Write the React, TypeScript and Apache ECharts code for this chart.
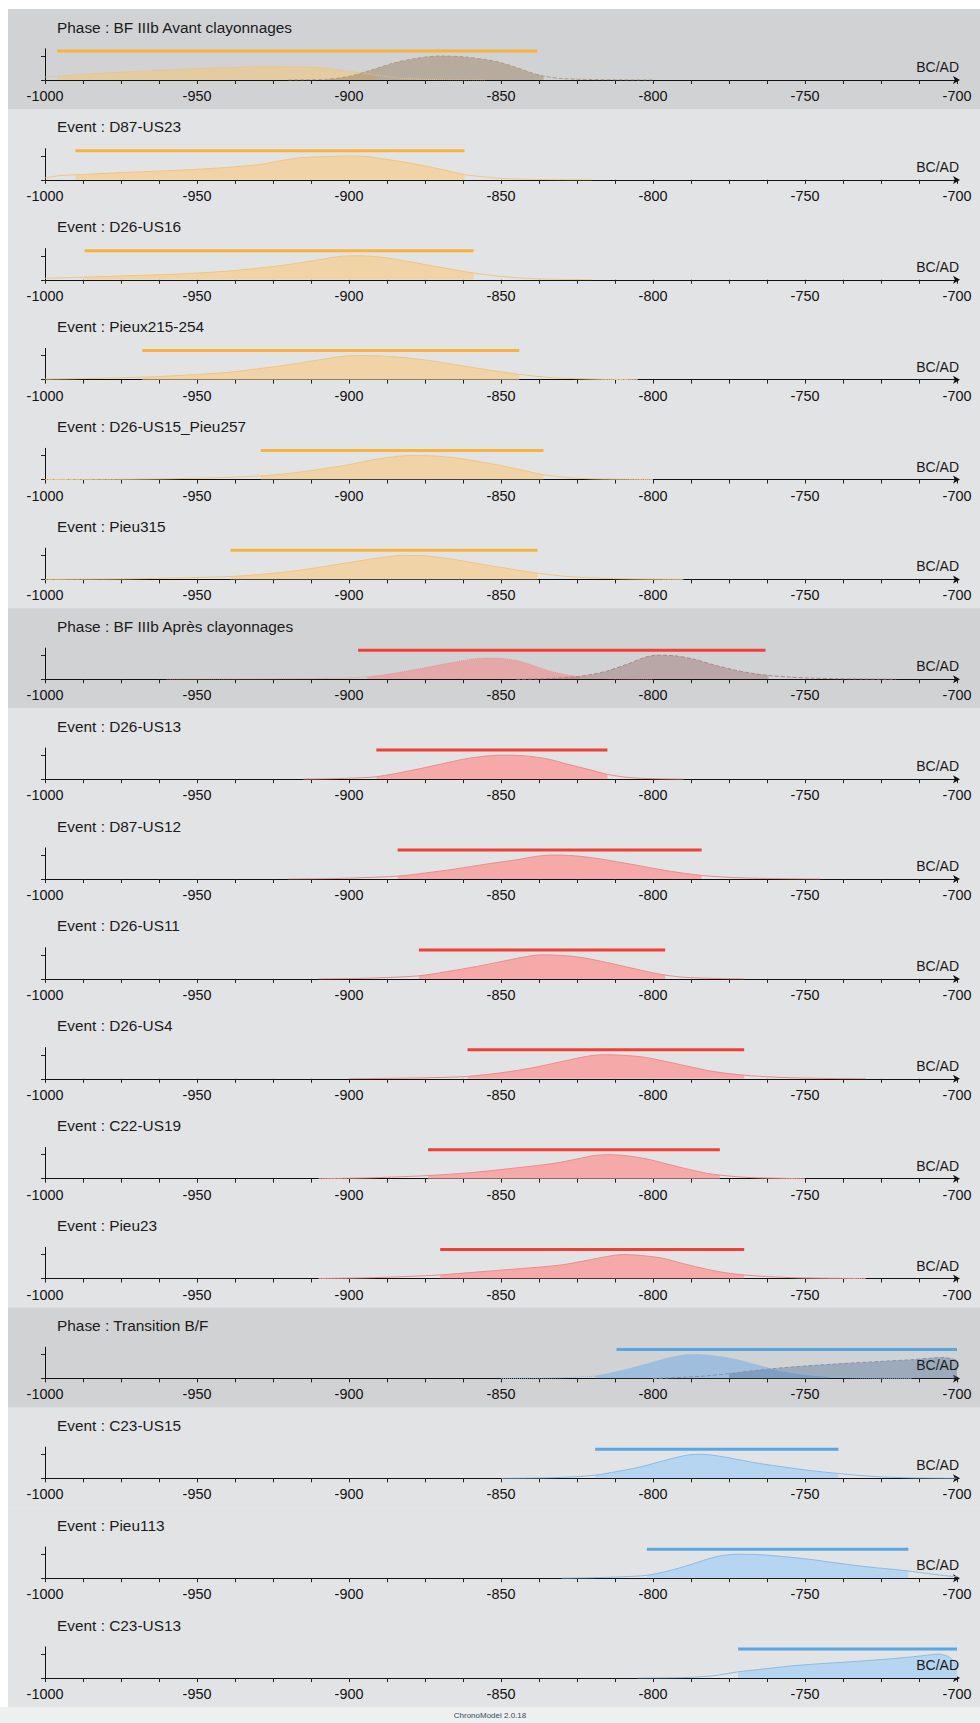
import React, { useEffect, useRef } from 'react';
import * as echarts from 'echarts';

// ---------- DATA ----------
const panelTitles = [
  'Phase : BF IIIb Avant clayonnages',
  'Event : D87-US23',
  'Event : D26-US16',
  'Event : Pieux215-254',
  'Event : D26-US15_Pieu257',
  'Event : Pieu315',
  'Phase : BF IIIb Après clayonnages',
  'Event : D26-US13',
  'Event : D87-US12',
  'Event : D26-US11',
  'Event : D26-US4',
  'Event : C22-US19',
  'Event : Pieu23',
  'Phase : Transition B/F',
  'Event : C23-US15',
  'Event : Pieu113',
  'Event : C23-US13',
];
const panelGroups = [
  'orange', 'orange', 'orange', 'orange', 'orange', 'orange',
  'red', 'red', 'red', 'red', 'red', 'red', 'red',
  'blue', 'blue', 'blue', 'blue',
];

const xMin = -1000;
const xMax = -700;
const xStep = 50;
const axisName = 'BC/AD';
const footerText = 'ChronoModel 2.0.18';

// Phase BF IIIb Avant clayonnages
const avantBegin = [[-1000, 0.12], [-996, 0.16], [-985, 0.26], [-970, 0.36], [-955, 0.45], [-940, 0.52], [-928, 0.56], [-918, 0.55], [-908, 0.5], [-900, 0.36], [-895, 0.28], [-891, 0.2], [-885, 0.1], [-878, 0.04], [-868, 0.01], [-855, 0]];
const avantEnd = [[-920, 0], [-907, 0.03], [-900, 0.15], [-893, 0.4], [-885, 0.72], [-878, 0.9], [-870, 1.0], [-862, 0.96], [-855, 0.85], [-850, 0.72], [-845, 0.52], [-840, 0.3], [-836, 0.16], [-830, 0.06], [-820, 0.02], [-810, 0.005], [-800, 0]];
const avantBeginFill = [-996, -891];
const avantEndFill = [-907, -836];
const avantHpd = [-996, -838];

const d87us23 = [[-1000, 0.08], [-995, 0.18], [-990, 0.21], [-975, 0.3], [-960, 0.38], [-950, 0.44], [-940, 0.52], [-930, 0.63], [-920, 0.85], [-915, 0.93], [-905, 0.98], [-900, 1.0], [-895, 0.98], [-890, 0.9], [-880, 0.7], [-870, 0.45], [-862, 0.22], [-855, 0.12], [-850, 0.06], [-840, 0.02], [-830, 0.005], [-820, 0]];
const d87us23Hpd = [-990, -862];

const d26us16 = [[-1000, 0.06], [-987, 0.11], [-975, 0.16], [-962, 0.21], [-950, 0.28], [-940, 0.36], [-930, 0.48], [-920, 0.63], [-910, 0.83], [-903, 0.97], [-898, 1.0], [-890, 0.95], [-880, 0.75], [-870, 0.52], [-859, 0.28], [-850, 0.14], [-840, 0.05], [-830, 0.015], [-820, 0]];
const d26us16Hpd = [-987, -859];

const pieux215 = [[-1000, 0.02], [-985, 0.05], [-968, 0.1], [-955, 0.18], [-940, 0.3], [-930, 0.45], [-920, 0.62], [-910, 0.82], [-902, 0.97], [-895, 1.0], [-885, 0.95], [-875, 0.82], [-865, 0.62], [-855, 0.42], [-844, 0.22], [-835, 0.1], [-825, 0.04], [-815, 0.01], [-805, 0]];
const pieux215Hpd = [-968, -844];

const d26us15 = [[-1000, 0], [-975, 0.01], [-960, 0.03], [-945, 0.07], [-929, 0.15], [-920, 0.25], [-910, 0.42], [-900, 0.62], [-892, 0.82], [-885, 0.95], [-880, 1.0], [-872, 0.98], [-865, 0.9], [-855, 0.7], [-845, 0.45], [-836, 0.2], [-828, 0.08], [-820, 0.03], [-810, 0.01], [-800, 0]];
const d26us15Hpd = [-929, -836];

const pieu315 = [[-1000, 0], [-975, 0.02], [-960, 0.05], [-950, 0.08], [-939, 0.12], [-930, 0.2], [-920, 0.32], [-910, 0.5], [-900, 0.7], [-890, 0.9], [-882, 1.0], [-875, 0.98], [-865, 0.82], [-855, 0.6], [-845, 0.4], [-838, 0.26], [-828, 0.12], [-815, 0.04], [-800, 0.01], [-790, 0]];
const pieu315Hpd = [-939, -838];

// Phase BF IIIb Après clayonnages
const apresBegin = [[-960, 0], [-940, 0.01], [-920, 0.02], [-905, 0.04], [-894, 0.1], [-885, 0.25], [-875, 0.48], [-865, 0.72], [-858, 0.86], [-852, 0.88], [-845, 0.78], [-840, 0.6], [-835, 0.38], [-830, 0.22], [-824, 0.1], [-818, 0.04], [-810, 0.01], [-800, 0]];
const apresEnd = [[-845, 0], [-834, 0.03], [-826, 0.1], [-820, 0.2], [-815, 0.35], [-808, 0.65], [-803, 0.9], [-799, 1.0], [-793, 0.98], [-787, 0.85], [-780, 0.6], [-773, 0.38], [-767, 0.24], [-762, 0.16], [-755, 0.09], [-748, 0.05], [-740, 0.025], [-730, 0.01], [-720, 0]];
const apresBeginFill = [-894, -824];
const apresEndFill = [-834, -762];
const apresHpd = [-897, -763];

const d26us13 = [[-915, 0], [-905, 0.02], [-898, 0.05], [-891, 0.1], [-880, 0.35], [-870, 0.62], [-862, 0.84], [-855, 0.96], [-850, 1.0], [-843, 0.98], [-835, 0.85], [-828, 0.62], [-821, 0.4], [-815, 0.2], [-808, 0.07], [-800, 0.02], [-790, 0]];
const d26us13Hpd = [-891, -815];

const d87us12 = [[-920, 0], [-905, 0.02], [-895, 0.06], [-884, 0.12], [-875, 0.25], [-865, 0.42], [-855, 0.62], [-845, 0.8], [-838, 0.95], [-833, 1.0], [-826, 0.97], [-818, 0.85], [-810, 0.68], [-800, 0.45], [-792, 0.28], [-784, 0.15], [-775, 0.07], [-765, 0.03], [-755, 0.01], [-745, 0]];
const d87us12Hpd = [-884, -784];

const d26us11 = [[-910, 0], [-897, 0.02], [-887, 0.06], [-877, 0.13], [-868, 0.3], [-858, 0.52], [-850, 0.72], [-843, 0.9], [-837, 1.0], [-830, 0.98], [-823, 0.88], [-815, 0.68], [-807, 0.45], [-800, 0.25], [-796, 0.16], [-790, 0.07], [-780, 0.02], [-770, 0]];
const d26us11Hpd = [-877, -796];

const d26us4 = [[-900, 0], [-885, 0.02], [-872, 0.05], [-861, 0.1], [-850, 0.25], [-840, 0.45], [-830, 0.72], [-822, 0.93], [-817, 1.0], [-810, 0.98], [-803, 0.9], [-795, 0.7], [-787, 0.48], [-780, 0.3], [-770, 0.15], [-760, 0.07], [-750, 0.03], [-740, 0.01], [-730, 0]];
const d26us4Hpd = [-861, -770];

const c22us19 = [[-910, 0], [-895, 0.03], [-885, 0.07], [-874, 0.13], [-860, 0.25], [-850, 0.38], [-840, 0.52], [-832, 0.65], [-825, 0.82], [-819, 0.97], [-815, 1.0], [-809, 0.96], [-802, 0.82], [-795, 0.6], [-788, 0.38], [-782, 0.22], [-778, 0.15], [-770, 0.06], [-760, 0.02], [-750, 0]];
const c22us19Hpd = [-874, -778];

const pieu23 = [[-910, 0], [-895, 0.03], [-882, 0.08], [-870, 0.15], [-858, 0.27], [-848, 0.37], [-838, 0.47], [-830, 0.57], [-822, 0.75], [-815, 0.92], [-810, 1.0], [-804, 0.96], [-797, 0.85], [-790, 0.62], [-782, 0.38], [-776, 0.24], [-770, 0.15], [-762, 0.08], [-752, 0.03], [-740, 0.01], [-730, 0]];
const pieu23Hpd = [-870, -770];

// Phase Transition B/F
const transBegin = [[-850, 0], [-840, 0.01], [-830, 0.03], [-819, 0.1], [-812, 0.28], [-805, 0.5], [-798, 0.75], [-792, 0.93], [-787, 1.0], [-780, 0.95], [-773, 0.8], [-766, 0.57], [-760, 0.37], [-752, 0.2], [-742, 0.08], [-735, 0.03], [-725, 0.01], [-715, 0]];
const transEnd = [[-800, 0], [-790, 0.05], [-783, 0.1], [-775, 0.2], [-765, 0.35], [-755, 0.47], [-745, 0.56], [-735, 0.64], [-725, 0.71], [-715, 0.78], [-708, 0.85], [-705, 0.87], [-702, 0.83], [-700, 0.75]];
const transBeginFill = [-819, -742];
const transEndFill = [-775, -700];
const transHpd = [-812, -700];

const c23us15 = [[-850, 0], [-840, 0.01], [-830, 0.04], [-819, 0.13], [-812, 0.28], [-805, 0.45], [-798, 0.68], [-793, 0.85], [-788, 0.98], [-784, 1.0], [-778, 0.92], [-772, 0.78], [-765, 0.62], [-757, 0.47], [-748, 0.32], [-739, 0.2], [-732, 0.12], [-725, 0.06], [-715, 0.02], [-705, 0.005], [-700, 0]];
const c23us15Hpd = [-819, -739];

const pieu113 = [[-830, 0], [-820, 0.02], [-810, 0.06], [-802, 0.12], [-795, 0.3], [-788, 0.55], [-782, 0.8], [-777, 0.95], [-772, 1.0], [-765, 0.98], [-757, 0.9], [-748, 0.78], [-740, 0.64], [-730, 0.48], [-722, 0.38], [-716, 0.3], [-710, 0.2], [-705, 0.12], [-700, 0.06]];
const pieu113Hpd = [-802, -716];

const c23us13 = [[-805, 0], [-795, 0.01], [-788, 0.03], [-780, 0.1], [-772, 0.26], [-765, 0.36], [-755, 0.5], [-745, 0.6], [-735, 0.68], [-725, 0.77], [-715, 0.88], [-710, 0.95], [-706, 1.0], [-703, 0.9], [-701, 0.7], [-700, 0.45]];
const c23us13Hpd = [-772, -700];

// ---------- assembly ----------
const ev = (data: number[][], hpd: number[]) => ({ hpd, curves: [{ data, fill: hpd, role: 'event' }] });
const ph = (b: number[][], bf: number[], e: number[][], efill: number[], hpd: number[]) => ({
  hpd,
  curves: [
    { data: b, fill: bf, role: 'begin' },
    { data: e, fill: efill, role: 'end' },
  ],
});

const panelContent = [
  ph(avantBegin, avantBeginFill, avantEnd, avantEndFill, avantHpd),
  ev(d87us23, d87us23Hpd),
  ev(d26us16, d26us16Hpd),
  ev(pieux215, pieux215Hpd),
  ev(d26us15, d26us15Hpd),
  ev(pieu315, pieu315Hpd),
  ph(apresBegin, apresBeginFill, apresEnd, apresEndFill, apresHpd),
  ev(d26us13, d26us13Hpd),
  ev(d87us12, d87us12Hpd),
  ev(d26us11, d26us11Hpd),
  ev(d26us4, d26us4Hpd),
  ev(c22us19, c22us19Hpd),
  ev(pieu23, pieu23Hpd),
  ph(transBegin, transBeginFill, transEnd, transEndFill, transHpd),
  ev(c23us15, c23us15Hpd),
  ev(pieu113, pieu113Hpd),
  ev(c23us13, c23us13Hpd),
];

const palette: Record<string, any> = {
  orange: {
    hpd: '#f7b23f',
    eventFill: '#f0d4a7', eventLine: '#f4c47c',
    beginFill: 'rgba(248,196,108,0.5)', beginLine: '#f0c07a',
    endFill: 'rgba(150,124,90,0.45)', endLine: '#b09a7c',
  },
  red: {
    hpd: '#ee4136',
    eventFill: '#f5a9a9', eventLine: '#f08a8a',
    beginFill: 'rgba(250,125,125,0.5)', beginLine: '#ee8e8e',
    endFill: 'rgba(150,100,100,0.4)', endLine: '#b08585',
  },
  blue: {
    hpd: '#5aa6e2',
    eventFill: '#b6d5f0', eventLine: '#89bbe8',
    beginFill: 'rgba(110,170,230,0.5)', beginLine: '#8cbbe6',
    endFill: 'rgba(80,110,150,0.4)', endLine: '#7f95b3',
  },
};

const FONT = '"Liberation Sans", Arial, Helvetica, sans-serif';
const PANEL_X = 8;
const PANEL_TOP0 = 9;
const PANEL_H = 99.88;
const AXIS_LEFT = 45;
const AXIS_WIDTH = 912;
const Y_TOP_MAX = 1.3;
const HPD_Y = 1.21;
const UNIT_PX = 24;

export default function App() {
  const ref = useRef<HTMLDivElement>(null);

  useEffect(() => {
    if (!ref.current) return;
    const chart = echarts.init(ref.current, null, { renderer: 'svg' });

    const grids: any[] = [];
    const xAxes: any[] = [];
    const yAxes: any[] = [];
    const series: any[] = [];
    const graphics: any[] = [];

    panelTitles.forEach((title, i) => {
      const T = PANEL_TOP0 + i * PANEL_H;
      const isPhase = title.startsWith('Phase');
      const pal = palette[panelGroups[i]];
      const axisY = T + 71;
      const gridH = Y_TOP_MAX * UNIT_PX;

      graphics.push({
        type: 'rect', z: -10, silent: true,
        shape: { x: PANEL_X, y: T, width: 980 - PANEL_X, height: PANEL_H + 0.6 },
        style: { fill: isPhase ? '#d1d2d4' : '#e2e3e5' },
      });
      graphics.push({
        type: 'text', z: 10, x: 57, y: T + 18,
        style: { text: title, fill: '#1a1a1a', fontSize: 15.4, fontFamily: FONT, verticalAlign: 'middle' },
      });
      graphics.push({
        type: 'text', z: 10, x: 959, y: T + 58,
        style: { text: axisName, fill: '#1a1a1a', fontSize: 14, fontFamily: FONT, align: 'right', verticalAlign: 'middle' },
      });

      grids.push({ left: AXIS_LEFT, width: AXIS_WIDTH, top: axisY - gridH, height: gridH });
      xAxes.push({
        gridIndex: i, type: 'value', min: xMin, max: xMax, interval: xStep,
        axisLine: { show: true, onZero: false, lineStyle: { color: '#111', width: 1 }, symbol: ['none', 'arrow'], symbolSize: [6, 7], symbolOffset: [0, 3] },
        axisTick: { show: true, length: 4, lineStyle: { color: '#222' } },
        minorTick: { show: true, splitNumber: 4, length: 4, lineStyle: { color: '#222' } },
        axisLabel: { fontSize: 14.4, color: '#111', fontFamily: FONT, margin: 9, formatter: (v: number) => String(v) },
        splitLine: { show: false },
      });
      yAxes.push({
        gridIndex: i, type: 'value', min: 0, max: Y_TOP_MAX, interval: 1,
        axisLine: { show: true, onZero: false, lineStyle: { color: '#111', width: 1 } },
        axisTick: { show: true, length: 4, customValues: [0, 1], lineStyle: { color: '#222' } },
        axisLabel: { show: false },
        splitLine: { show: false },
      });

      const content = panelContent[i];
      content.curves.forEach((c: any) => {
        const fillColor = c.role === 'event' ? pal.eventFill : c.role === 'begin' ? pal.beginFill : pal.endFill;
        const lineColor = c.role === 'event' ? pal.eventLine : c.role === 'begin' ? pal.beginLine : pal.endLine;
        const lineType = c.role === 'begin' ? 'dotted' : c.role === 'end' ? 'dashed' : 'solid';
        const fillData = c.data.filter((p: number[]) => p[0] >= c.fill[0] && p[0] <= c.fill[1]);
        series.push({
          type: 'line', xAxisIndex: i, yAxisIndex: i, data: fillData,
          symbol: 'none', smooth: 0.3, silent: true, z: 2,
          lineStyle: { width: 0, opacity: 0 },
          areaStyle: { color: fillColor, opacity: 1 },
        });
        series.push({
          type: 'line', xAxisIndex: i, yAxisIndex: i, data: c.data,
          symbol: 'none', smooth: 0.3, silent: true, z: 3,
          lineStyle: { color: lineColor, width: 1, type: lineType },
        });
      });
      series.push({
        type: 'line', xAxisIndex: i, yAxisIndex: i,
        data: [[content.hpd[0], HPD_Y], [content.hpd[1], HPD_Y]],
        symbol: 'none', silent: true, z: 4,
        lineStyle: { color: pal.hpd, width: 3 },
      });
    });

    const footerTop = PANEL_TOP0 + panelTitles.length * PANEL_H;
    graphics.push({
      type: 'rect', z: -10, silent: true,
      shape: { x: 0, y: footerTop, width: 980, height: 1723 - footerTop },
      style: { fill: '#eef0ef' },
    });
    graphics.push({
      type: 'text', z: 10, x: 490, y: footerTop + 9,
      style: { text: footerText, fill: '#3a4660', fontSize: 8, fontFamily: FONT, align: 'center', verticalAlign: 'middle' },
    });

    chart.setOption({
      animation: false,
      backgroundColor: '#ffffff',
      grid: grids,
      xAxis: xAxes,
      yAxis: yAxes,
      series,
      graphic: { elements: graphics },
    });

    return () => chart.dispose();
  }, []);

  return (
    <div
      ref={ref}
      style={{ position: 'absolute', left: 0, top: 0, width: 980, height: 1723, background: '#fff' }}
    />
  );
}
